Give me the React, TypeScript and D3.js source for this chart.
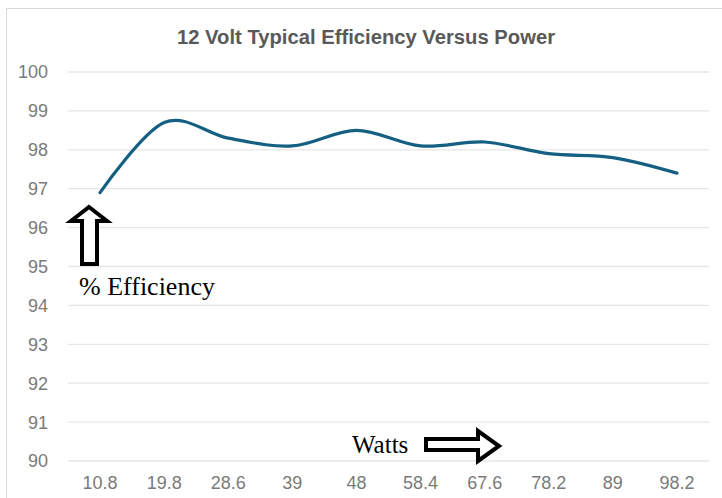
import React from 'react';
import * as d3 from 'd3';

// output power in watts (category axis)
const watts = ['10.8', '19.8', '28.6', '39', '48', '58.4', '67.6', '78.2', '89', '98.2'];
// % efficiency
const efficiency = [96.9, 98.7, 98.3, 98.1, 98.5, 98.1, 98.2, 97.9, 97.8, 97.4];
const yTicks = [90, 91, 92, 93, 94, 95, 96, 97, 98, 99, 100];

const W = 722;
const H = 498;

export default function App() {
    const x = d3.scalePoint<string>().domain(watts).range([68, 709]).padding(0.5);
    const y = d3.scaleLinear().domain([90, 100]).range([461, 72]);

    const line = d3.line<number>()
        .x((d, i) => x(watts[i]) as number)
        .y(d => y(d))
        .curve(d3.curveCardinal.tension(0));

    const tickFont = '"Liberation Sans", Arial, sans-serif';
    const serif = '"Liberation Serif", "Times New Roman", serif';

    // hollow block arrows (annotation shapes)
    const upArrow = [[89, 207], [107, 221], [97, 221], [97, 264], [82, 264], [82, 221], [71, 221]];
    const rightArrow = [[426, 439], [478, 439], [478, 431], [499, 446], [478, 461], [478, 450], [426, 450]];

    return (
        <div style={{position: 'absolute', left: 0, top: 0}}>
            <svg width={W} height={H} style={{display: 'block'}}>
                <rect x={0} y={0} width={W} height={H} fill="#fff" />
                <rect x={6.5} y={8.5} width={800} height={600} fill="#fff" stroke="#d9d9d9" />

                <text x={366} y={44} textAnchor="middle" fontFamily={tickFont}
                      fontWeight="bold" fontSize={20} fill="#595959" textLength={378} lengthAdjust="spacingAndGlyphs">
                    12 Volt Typical Efficiency Versus Power
                </text>

                {yTicks.map(t => (
                    <g key={t}>
                        <line x1={68} x2={709} y1={y(t)} y2={y(t)} stroke="#e6e6e6" strokeWidth={1.3} />
                        <text x={48} y={y(t)} dy="0.36em" textAnchor="end" fontFamily={tickFont} fontSize={18} fill="#7a7a7a">{t}</text>
                    </g>
                ))}

                {watts.map(w => (
                    <text key={w} x={x(w)} y={489} textAnchor="middle" fontFamily={tickFont} fontSize={18} fill="#7a7a7a">{w}</text>
                ))}

                <path d={line(efficiency) || ''} fill="none" stroke="#156082" strokeWidth={3.2} strokeLinecap="round" />

                <polygon points={upArrow.map(p => p.join(',')).join(' ')} fill="#fff" stroke="#000" strokeWidth={4} strokeLinejoin="miter" />
                <text x={79} y={295} fontFamily={serif} fontSize={26} fill="#000">% Efficiency</text>

                <polygon points={rightArrow.map(p => p.join(',')).join(' ')} fill="#fff" stroke="#000" strokeWidth={4} strokeLinejoin="miter" />
                <text x={352} y={453} fontFamily={serif} fontSize={25} fill="#000">Watts</text>
            </svg>
        </div>
    );
}
